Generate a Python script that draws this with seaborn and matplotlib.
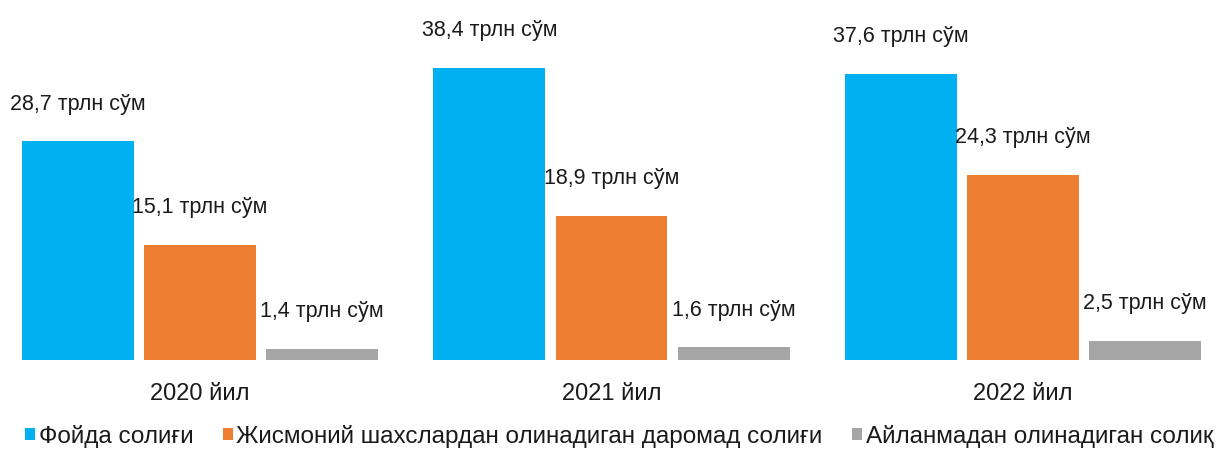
import matplotlib
matplotlib.use("Agg")
import matplotlib.pyplot as plt
from matplotlib.patches import Patch
import seaborn as sns
import pandas as pd

years = ["2020 йил", "2021 йил", "2022 йил"]
series = ["Фойда солиғи",
          "Жисмоний шахслардан олинадиган даромад солиғи",
          "Айланмадан олинадиган солиқ"]
profit_tax = [28.7, 38.4, 37.6]
income_tax = [15.1, 18.9, 24.3]
turnover_tax = [1.4, 1.6, 2.5]
colors = ["#00B0F0", "#ED7D31", "#A5A5A5"]
unit = " трлн сўм"

rows = []
for s, vals in zip(series, [profit_tax, income_tax, turnover_tax]):
    for y, v in zip(years, vals):
        rows.append({"year": y, "series": s, "value": v})
df = pd.DataFrame(rows)

sns.set_style("white")
plt.rcParams["font.family"] = ["Liberation Sans", "DejaVu Sans"]

fig = plt.figure(figsize=(12.24, 4.5), dpi=100)
ax = fig.add_axes([0, (450 - 359.5) / 450, 1, 359.5 / 450])

sns.barplot(data=df, x="year", y="value", hue="series", order=years,
            hue_order=series, palette=colors, saturation=1,
            width=0.89, gap=0.083, linewidth=0, legend=False, ax=ax)

ax.set_xlim(-200 / 411.5, (1224 - 200) / 411.5)
ax.set_ylim(0, 359.5 / 7.6)

for cont, vals in zip(ax.containers, [profit_tax, income_tax, turnover_tax]):
    labels = [f"{v:.1f}".replace(".", ",") + unit for v in vals]
    ax.bar_label(cont, labels=labels, padding=19, fontsize=15.5, color="#1a1a1a")

ax.set_xlabel("")
ax.set_ylabel("")
ax.set_yticks([])
ax.tick_params(axis="x", length=0, pad=17, labelsize=17, labelcolor="#1a1a1a")
for sp in ax.spines.values():
    sp.set_visible(False)

handles = [Patch(facecolor=c, edgecolor="none") for c in colors]
fig.legend(handles, series, loc="center left", bbox_to_anchor=(25 / 1224, 1 - 436 / 450),
           ncol=3, frameon=False, fontsize=17.5, handlelength=0.42, handleheight=0.42,
           handletextpad=0.15, columnspacing=1.2, borderaxespad=0, borderpad=0,
           labelcolor="#1a1a1a")

fig.savefig("out.png", dpi=100)
